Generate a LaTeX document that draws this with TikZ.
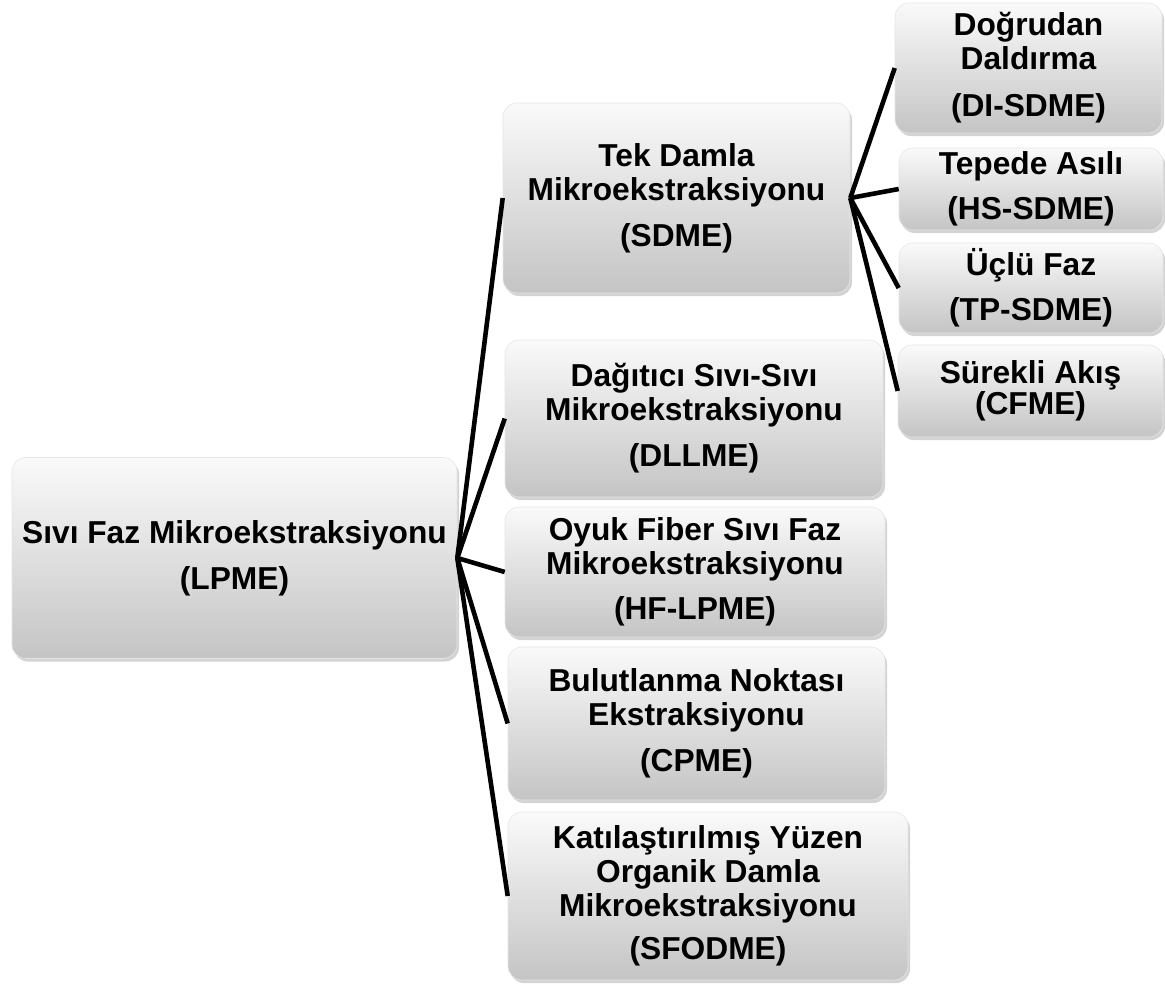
\documentclass[tikz,border=0pt]{standalone}
\usepackage{fontspec}
\setmainfont{Liberation Sans}
\usetikzlibrary{shadows}
\tikzset{
  box/.style={rectangle, rounded corners=14pt, inner sep=0pt, align=center,
    top color=gray!4, bottom color=gray!46, draw=gray!20, line width=0.6pt,
    drop shadow={opacity=0.35, shadow xshift=2pt, shadow yshift=-3pt},
    font=\fontsize{31.7}{34}\selectfont\bfseries},
  link/.style={line width=4.6pt, black}
}
\begin{document}
\begin{tikzpicture}[x=1pt,y=-1pt]
\useasboundingbox (0,0) rectangle (1165,985);
\node[box, minimum width=445pt, minimum height=201pt] (root) at (234.5,558) {Sıvı Faz Mikroekstraksiyonu\\[12pt](LPME)};
\node[box, minimum width=347pt, minimum height=190pt] (sdme) at (676.5,198) {Tek Damla\\Mikroekstraksiyonu\\[12pt](SDME)};
\node[box, minimum width=378pt, minimum height=157pt] (dllme) at (694,418.5) {Dağıtıcı Sıvı-Sıvı\\Mikroekstraksiyonu\\[12pt](DLLME)};
\node[box, minimum width=380pt, minimum height=130pt] (hf) at (695,572) {Oyuk Fiber Sıvı Faz\\Mikroekstraksiyonu\\[11pt](HF-LPME)};
\node[box, minimum width=377pt, minimum height=153pt] (cp) at (696.5,723.5) {Bulutlanma Noktası\\Ekstraksiyonu\\[12pt](CPME)};
\node[box, minimum width=400pt, minimum height=168pt] (sf) at (708,896) {Katılaştırılmış Yüzen\\Organik Damla\\Mikroekstraksiyonu\\[9pt](SFODME)};
\node[box, minimum width=267pt, minimum height=130pt] (di) at (1028.5,68) {Doğrudan\\Daldırma\\[13pt](DI-SDME)};
\node[box, minimum width=264pt, minimum height=82pt] (hs) at (1031,189) {Tepede Asılı\\[11pt](HS-SDME)};
\node[box, minimum width=264pt, minimum height=90pt] (tp) at (1031,288) {Üçlü Faz\\[11pt](TP-SDME)};
\node[box, minimum width=265pt, minimum height=92pt] (cf) at (1030.5,391) {Sürekli Akış\\[-3pt](CFME)};
\foreach \c in {sdme,dllme,hf,cp,sf} \draw[link] (root.east) -- (\c.west);
\foreach \c in {di,hs,tp,cf} \draw[link] (sdme.east) -- (\c.west);
\end{tikzpicture}
\end{document}
